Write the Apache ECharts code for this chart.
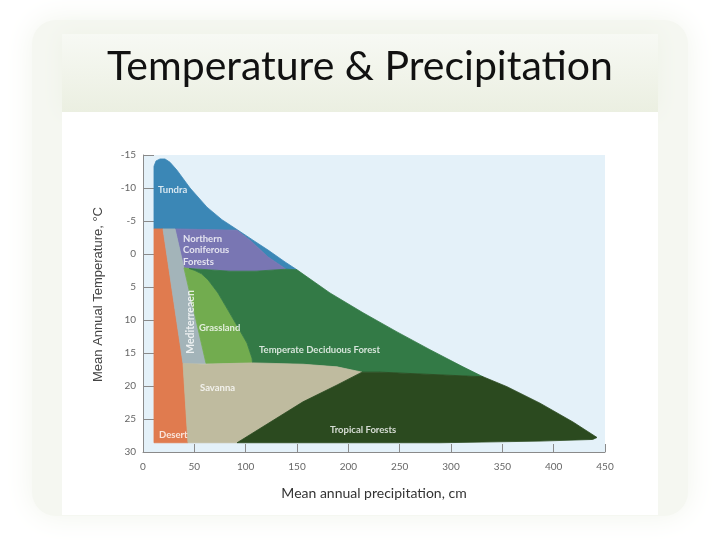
<!DOCTYPE html>
<html>
<head>
<meta charset="utf-8">
<script src="https://cdn.jsdelivr.net/npm/echarts@6/dist/echarts.min.js"></script>
<style>html,body{margin:0;padding:0;background:#fff;}#c{width:720px;height:540px;}</style>
</head>
<body>
<div id="c"></div>
<script>
// ---- data (precipitation cm, temperature °C) ----
const xTicks = [0, 50, 100, 150, 200, 250, 300, 350, 400, 450];
const yTicks = [-15, -10, -5, 0, 5, 10, 15, 20, 25, 30];

const tundra = [[10.7,-3.8],[10.7,-13.3],[12.7,-14.1],[16.6,-14.4],[21.4,-14.4],[26.3,-13.9],[33.1,-12.7],[45.8,-10.0],[62.3,-7.1],[76.9,-5.2],[89.6,-3.9],[107.1,-2.1],[121.8,-0.6],[138.3,1.2],[150.0,2.4],[139.3,2.3],[121.8,0.45],[104.2,-2.1],[91.6,-3.6],[31.2,-3.8]];
const northernConiferous = [[31.2,-3.8],[91.6,-3.6],[104.2,-2.1],[121.8,0.45],[139.3,2.3],[110.0,2.6],[84.7,2.6],[39.9,2.1]];
const mediterranean = [[19.5,-3.8],[31.2,-3.8],[39.9,2.1],[61.4,16.6],[39.0,16.6]];
const desert = [[10.7,-3.8],[19.5,-3.8],[39.0,16.6],[43.8,28.6],[10.7,28.6]];
const grassland = [[39.9,2.1],[45.0,2.2],[50.6,2.5],[57.0,3.0],[63.3,3.9],[73.0,5.9],[82.8,8.5],[92.5,11.1],[101.3,13.5],[106.2,15.8],[106.7,16.5],[61.4,16.6]];
const temperateForest = [[45.0,2.2],[84.7,2.6],[110.0,2.6],[139.3,2.3],[150.0,2.4],[182.1,5.9],[214.3,8.9],[247.4,11.8],[279.5,14.5],[311.7,17.1],[331.2,18.6],[230.8,17.9],[213.3,17.9],[189.0,17.1],[155.8,16.7],[106.7,16.5],[106.2,15.8],[101.3,13.5],[92.5,11.1],[82.8,8.5],[73.0,5.9],[63.3,3.9],[57.0,3.0],[50.6,2.5]];
const savanna = [[39.0,16.6],[58.5,16.7],[106.7,16.5],[155.8,16.7],[189.0,17.1],[213.3,17.9],[189.0,19.85],[155.8,22.4],[123.7,25.5],[91.6,28.6],[43.8,28.6]];
const tropicalForest = [[91.6,28.6],[123.7,25.5],[155.8,22.4],[189.0,19.85],[213.3,17.9],[230.8,17.9],[331.2,18.6],[354.5,20.1],[386.7,22.6],[418.8,25.45],[442.2,27.8],[438.0,28.1],[386.7,28.35],[289.3,28.6]];

const biomeNames = ['Tundra','Northern\nConiferous\nForests','Mediterreaen','Grassland','Temperate Deciduous Forest','Savanna','Desert','Tropical Forests'];
const labelAnchors = [[14.6,-9.7],[39.0,-0.6],[46.8,10.3],[54.5,11.2],[113.0,14.5],[55.5,20.3],[15.6,27.4],[182.1,26.7]];

// ---- chart ----
const polygons = [
  [tundra, '#3b87b6'],
  [northernConiferous, '#7976b3'],
  [desert, '#e07b4f'],
  [mediterranean, '#a3b4b9'],
  [grassland, '#72ac4f'],
  [temperateForest, '#337a46'],
  [savanna, '#bfbb9f'],
  [tropicalForest, '#2b4a1f']
];

function makeRender(points, color) {
  return function (params, api) {
    if (params.dataIndex !== 0) return null;
    const pts = points.map(p => api.coord(p));
    return {type: 'polygon', shape: {points: pts}, style: {fill: color, stroke: color, lineWidth: 0.8}};
  };
}

const series = polygons.map(([pts, color]) => ({
  type: 'custom',
  renderItem: makeRender(pts, color),
  data: pts,
  encode: {x: 0, y: 1},
  clip: true,
  silent: true
}));

series.push({
  type: 'scatter',
  symbolSize: 0,
  silent: true,
  data: biomeNames.map((n, i) => {
    const item = {name: n, value: labelAnchors[i]};
    if (n === 'Mediterreaen') item.label = {rotate: 90, align: 'center', fontSize: 10.5};
    return item;
  }),
  label: {
    show: true,
    formatter: '{b}',
    position: [0, 0],
    align: 'left',
    verticalAlign: 'middle',
    color: '#ffffff',
    fontFamily: 'Lato',
    fontWeight: 'bold',
    fontSize: 9.5,
    lineHeight: 11.5
  }
});

const chart = echarts.init(document.getElementById('c'));
chart.setOption({
  animation: false,
  backgroundColor: '#ffffff',
  graphic: [
    {type: 'rect', shape: {x: 32, y: 20, width: 656, height: 496, r: 24}, style: {fill: '#f5f7f1', shadowBlur: 30, shadowColor: '#f1f4ec'}, z: -10, silent: true},
    {type: 'rect', shape: {x: 62, y: 34, width: 596, height: 78}, style: {fill: {type: 'linear', x: 0, y: 0, x2: 0, y2: 1, colorStops: [{offset: 0, color: '#f7f9f4'}, {offset: 1, color: '#ebefe1'}]}, shadowBlur: 20, shadowColor: '#eef2e7'}, z: -9, silent: true},
    {type: 'rect', shape: {x: 62, y: 112, width: 596, height: 403}, style: {fill: '#ffffff'}, z: -8, silent: true},
    {type: 'text', left: 'center', top: 46, style: {text: 'Temperature & Precipitation', font: '41px Lato', fill: '#111111'}, z: 10, silent: true}
  ],
  grid: {left: 143, right: 115, top: 155, bottom: 88, show: true, backgroundColor: '#e4f1f9', borderWidth: 0},
  xAxis: {
    type: 'value', min: xTicks[0], max: xTicks[xTicks.length - 1], interval: 50,
    axisLine: {show: true, onZero: false, lineStyle: {color: '#8a8a8a', width: 1}},
    axisTick: {show: true, inside: true, length: 8, lineStyle: {color: '#8a8a8a'}},
    axisLabel: {color: '#666', fontSize: 10, fontFamily: 'Lato', margin: 10},
    splitLine: {show: false},
    name: 'Mean annual precipitation, cm', nameLocation: 'middle', nameGap: 34,
    nameTextStyle: {color: '#333', fontSize: 14, fontFamily: 'Lato'}
  },
  yAxis: {
    type: 'value', inverse: true, min: yTicks[0], max: yTicks[yTicks.length - 1], interval: 5,
    axisLine: {show: true, onZero: false, lineStyle: {color: '#8a8a8a', width: 1}},
    axisTick: {show: true, inside: true, length: 11, lineStyle: {color: '#8a8a8a'}},
    axisLabel: {color: '#666', fontSize: 10, fontFamily: 'Lato', margin: 7},
    splitLine: {show: false},
    name: 'Mean Annual Temperature, °C', nameLocation: 'middle', nameGap: 38,
    nameTextStyle: {color: '#444', fontSize: 13, fontFamily: 'Liberation Sans', padding: [0, 0, 0, 18]}
  },
  series: series
});
</script>
</body>
</html>
